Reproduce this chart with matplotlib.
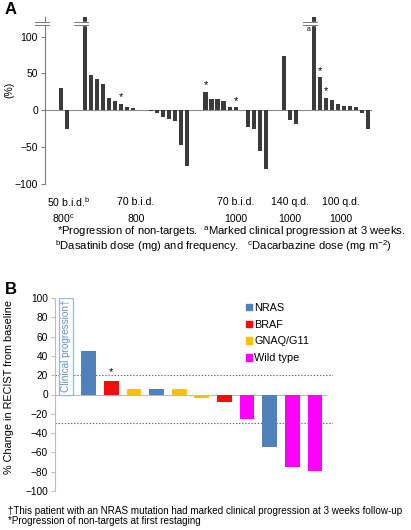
import numpy as np
import matplotlib
matplotlib.use('Agg')
import matplotlib.pyplot as plt
from matplotlib.patches import Patch, Rectangle

plt.rcParams['font.family'] = ['Liberation Sans', 'DejaVu Sans']
plt.rcParams['mathtext.fontset'] = 'custom'
plt.rcParams['mathtext.rm'] = 'Liberation Sans'
plt.rcParams['mathtext.it'] = 'Liberation Sans:italic'

# ---------------- panel A data ----------------
# blocks of bars (% change), 150 = bar broken above the axis
blocks_a = [
    [30, -26],
    [150, 48, 42, 36, 17, 12, 9, 5, 3, 1, 0.8, -1.5, -3, -9, -12, -15, -47, -76],
    [25, 15.5, 15, 13, 5, 4],
    [-23, -25, -55, -80],
    [73, -13, -18],
    [150, 45, 17, 14, 9, 6, 6, 5, -4, -26],
]
gaps_a = [0, 2, 2, 1, 2, 2]          # empty slots before each block
stars_a = [(1, 6), (2, 0), (2, 5), (5, 1), (5, 2)]   # (block, bar) with *
dose_row1 = ['50 b.i.d.$^{\\mathrm{b}}$', '70 b.i.d.', '70 b.i.d.', '140 q.d.', '100 q.d.']
dose_row2 = ['800$^{\\mathrm{c}}$', '800', '1000', '1000', '1000']
dose_blocks = [[0], [1], [2, 3], [4], [5]]

# ---------------- panel B data ----------------
b_values = [45, 14, 6, 6, 5.5, -4, -8, -25, -54, -75, -79.5]
b_genes = ['NRAS', 'BRAF', 'GNAQ/G11', 'NRAS', 'GNAQ/G11', 'GNAQ/G11', 'BRAF',
           'Wild type', 'NRAS', 'Wild type', 'Wild type']
b_star = [1]
gene_colors = {'NRAS': '#4f81bd', 'BRAF': '#f50c0c', 'GNAQ/G11': '#ffbf00',
               'Wild type': '#ff00ff'}

fig = plt.figure(figsize=(4.11, 5.30), dpi=100)
W, H = 411, 530

def px(x0, y0, x1, y1):
    return [x0 / W, 1 - y1 / H, (x1 - x0) / W, (y1 - y0) / H]

# ================= panel A =================
axA = fig.add_axes(px(45, 16.7, 372, 184))
pos = []
vals = []
starpos = []
block_pos = []
s = 0
for bi, (blk, g) in enumerate(zip(blocks_a, gaps_a)):
    s += g
    bp = []
    for j, v in enumerate(blk):
        pos.append(s)
        vals.append(v)
        bp.append(s)
        if (bi, j) in stars_a:
            starpos.append((s, v))
        s += 1
    block_pos.append(bp)

axA.bar(pos, vals, width=0.7, color='#3b3b3b', zorder=2)
axA.set_xlim(-2.6, 51.6)
axA.set_ylim(-100, 127)
axA.axhline(0, color='#8c8c8c', lw=0.8, zorder=1)
for sp in ['top', 'right', 'bottom']:
    axA.spines[sp].set_visible(False)
axA.spines['left'].set_color('#777777')
axA.spines['left'].set_linewidth(0.8)
axA.set_xticks([])
axA.set_yticks([100, 50, 0, -50, -100])
axA.set_yticklabels(['100', '50', '0', '\u221250', '\u2212100'])
axA.tick_params(axis='y', labelsize=7.5, length=3, width=0.7, color='#777777', pad=2)
axA.set_ylabel('(%)', fontsize=7.5, labelpad=0)
axA.yaxis.set_label_coords(-0.095, 0.56)

for x, v in starpos:
    axA.text(x, v + 2, '*', ha='center', va='bottom', fontsize=8)

# axis breaks
def brk(x0, x1):
    axA.fill_between([x0, x1], 116, 120, color='white', zorder=3, clip_on=False)
    axA.plot([x0, x1], [116, 116], color='#777777', lw=0.7, zorder=4, clip_on=False)
    axA.plot([x0, x1], [120, 120], color='#777777', lw=0.7, zorder=4, clip_on=False)

brk(-4.3, -1.9)
for bi in [1, 5]:
    xb = block_pos[bi][0]
    brk(xb - 1.8, xb + 0.45)
axA.text(block_pos[5][0] - 0.9, 110, 'a', fontsize=5, ha='center', va='center')

for k, (lab1, lab2, bl) in enumerate(zip(dose_row1, dose_row2, dose_blocks)):
    xs = [p for b in bl for p in block_pos[b]]
    xc = (min(xs) + max(xs)) / 2
    shift = 0.8 if k == 0 else 0
    axA.text(xc + shift, -124, lab1, ha='center', va='center', fontsize=7.6, clip_on=False)
    axA.text(xc, -147, lab2, ha='center', va='center', fontsize=7.6, clip_on=False)

fig.text(5 / W, 1 - 10 / H, 'A', fontsize=12, fontweight='bold', va='center')
fig.text(57 / W, 1 - 232 / H,
         '*Progression of non-targets.  $^{\\mathrm{a}}$Marked clinical progression at 3 weeks.',
         fontsize=8.1, va='center')
fig.text(55 / W, 1 - 246 / H,
         '$^{\\mathrm{b}}$Dasatinib dose (mg) and frequency.   $^{\\mathrm{c}}$Dacarbazine dose (mg m$^{\\mathrm{-2}}$)',
         fontsize=8.1, va='center')

# ================= panel B =================
axB = fig.add_axes(px(55, 298, 333, 491))
xb = np.arange(1, len(b_values) + 1)
axB.bar(xb, b_values, width=0.65, color=[gene_colors[g] for g in b_genes], zorder=2)
axB.set_xlim(-0.49, 11.8)
axB.set_ylim(-100, 100)
axB.hlines(0, -0.49, 11.55, color='#bbbbbb', lw=0.8, zorder=1)
axB.axhline(20, color='#666666', lw=0.8, ls=(0, (1.2, 1.6)), zorder=1)
axB.axhline(-30, color='#666666', lw=0.8, ls=(0, (1.2, 1.6)), zorder=1)
for sp in ['top', 'right', 'bottom']:
    axB.spines[sp].set_visible(False)
axB.spines['left'].set_color('#bbbbbb')
axB.spines['left'].set_linewidth(0.8)
axB.set_xticks([])
ticks = np.arange(100, -101, -20)
axB.set_yticks(ticks)
axB.set_yticklabels([str(t) if t >= 0 else '\u2212' + str(-t) for t in ticks])
axB.tick_params(axis='y', labelsize=7.3, length=3, width=0.7, color='#bbbbbb', pad=2)
axB.set_ylabel('% Change in RECIST from baseline', fontsize=7.8)
axB.yaxis.set_label_coords(-0.148, 0.54)

for i in b_star:
    axB.text(xb[i], b_values[i] + 4, '*', ha='center', va='bottom', fontsize=8)

axB.add_patch(Rectangle((-0.31, 0), 0.62, 100, facecolor='white',
                        edgecolor='#9bb7da', lw=0.9, zorder=2))
axB.text(0, 51, 'Clinical progression\u2020', rotation=90, ha='center', va='center',
         fontsize=7.2, color='#5f8fc8', zorder=3)

handles = [Patch(color=gene_colors[g], label=g) for g in ['NRAS', 'BRAF', 'GNAQ/G11', 'Wild type']]
fig.legend(handles=handles, loc='upper left', bbox_to_anchor=(246 / W, 1 - 303 / H),
           frameon=False, fontsize=7.8, handlelength=0.55, handleheight=0.55,
           handletextpad=0.2, labelspacing=0.62, borderaxespad=0, borderpad=0)

fig.text(5 / W, 1 - 290 / H, 'B', fontsize=12, fontweight='bold', va='center')
fig.text(8 / W, 1 - 511 / H,
         '\u2020This patient with an NRAS mutation had marked clinical progression at 3 weeks follow-up',
         fontsize=7.1, va='center')
fig.text(8 / W, 1 - 520.5 / H, '*Progression of non-targets at first restaging',
         fontsize=7.1, va='center')

fig.savefig('out.png', dpi=100)
